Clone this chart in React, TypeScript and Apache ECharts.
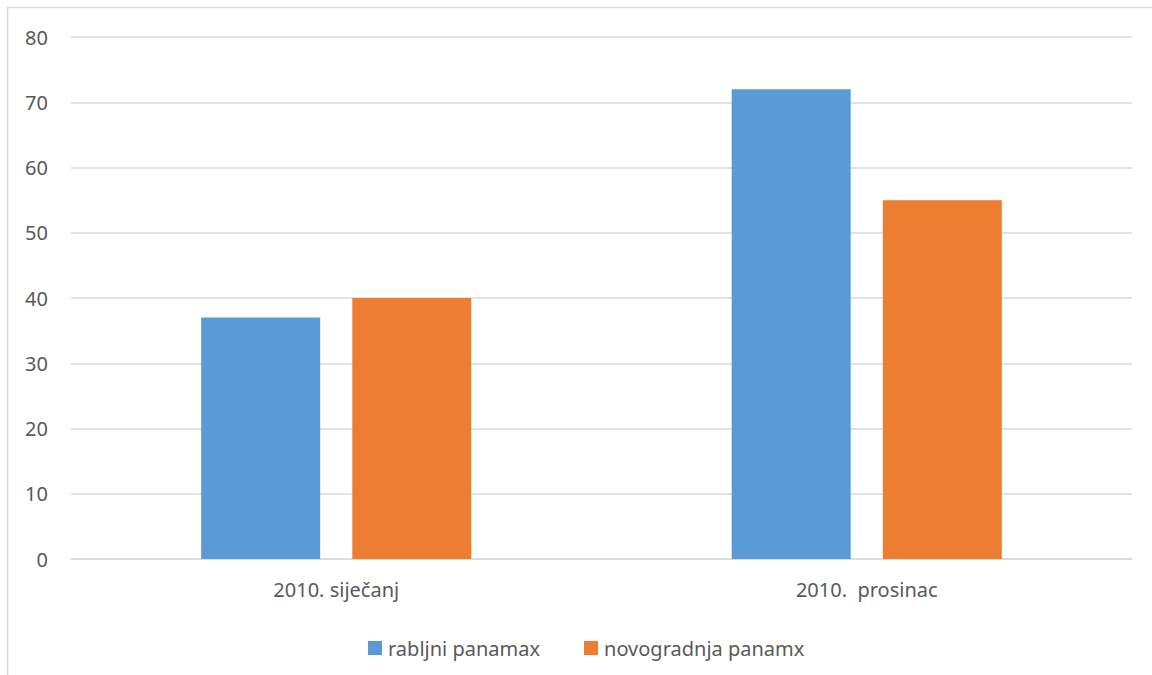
import React, { useEffect, useRef } from "react";
import * as echarts from "echarts";

const categories = ["2010. siječanj", "2010.  prosinac"];
const seriesNames = ["rabljni panamax", "novogradnja panamx"];
const rabljniValues = [37, 72];
const novogradnjaValues = [40, 55];
const colors = ["#5b9bd5", "#ed7d31"];

export default function App() {
  const ref = useRef<HTMLDivElement>(null);
  useEffect(() => {
    document.body.style.margin = "0";
    const chart = echarts.init(ref.current!, null, { renderer: "svg" });
    const font = "Noto Sans";
    chart.setOption({
      animation: false,
      color: colors,
      graphic: [
        {
          type: "rect",
          shape: { x: 7.5, y: 7.5, width: 1200, height: 700 },
          style: { fill: "none", stroke: "#d9d9d9", lineWidth: 1.5 },
          silent: true,
        },
      ],
      grid: { left: 71, right: 20, top: 37, bottom: 116 },
      legend: {
        data: seriesNames,
        top: 633,
        left: 363,
        itemWidth: 14,
        itemHeight: 14,
        itemGap: 44,
        icon: "rect",
        textStyle: { fontFamily: font, fontSize: 20, color: "#595959", padding: [0, 0, 0, 1] },
      },
      xAxis: {
        type: "category",
        data: categories,
        axisLine: { lineStyle: { color: "#d9d9d9", width: 1.5 } },
        axisTick: { show: false },
        axisLabel: { fontFamily: font, fontSize: 20, color: "#595959", margin: 20 },
      },
      yAxis: {
        type: "value",
        min: 0,
        max: 80,
        interval: 10,
        axisLine: { show: false },
        axisTick: { show: false },
        splitLine: { lineStyle: { color: "#d9d9d9", width: 1.5 } },
        axisLabel: { fontFamily: font, fontSize: 20, color: "#595959", margin: 23 },
      },
      series: [
        {
          name: seriesNames[0],
          type: "bar",
          data: rabljniValues,
          barWidth: 119,
          barGap: "27%",
        },
        {
          name: seriesNames[1],
          type: "bar",
          data: novogradnjaValues,
          barWidth: 119,
          barGap: "27%",
        },
      ],
    });
    return () => chart.dispose();
  }, []);
  return (
    <div
      ref={ref}
      style={{ position: "fixed", left: 0, top: 0, width: 1152, height: 675, background: "#fff" }}
    />
  );
}
